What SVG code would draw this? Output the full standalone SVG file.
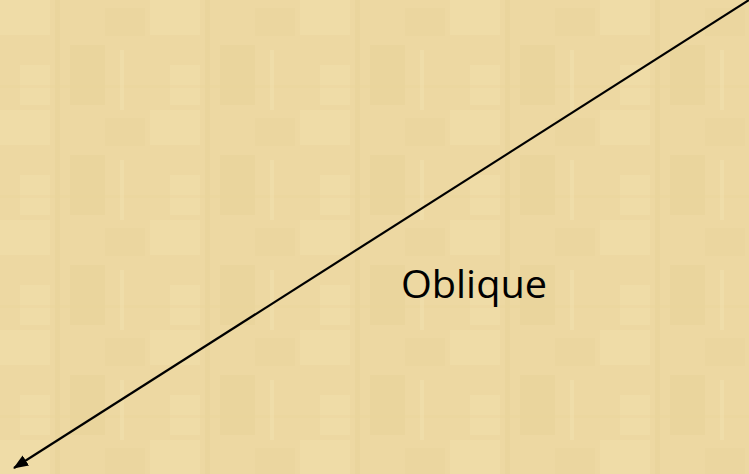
<svg xmlns="http://www.w3.org/2000/svg" width="749" height="474" viewBox="0 0 749 474">
<defs>
<pattern id="tex" width="150" height="110" patternUnits="userSpaceOnUse">
<rect width="150" height="110" fill="#EDD8A2"/>
<rect x="0" y="0" width="50" height="35" fill="#F1DFAB" opacity="0.5"/>
<rect x="70" y="45" width="35" height="60" fill="#E7D096" opacity="0.4"/>
<rect x="20" y="65" width="30" height="40" fill="#F2E1B0" opacity="0.4"/>
<rect x="105" y="8" width="40" height="28" fill="#E9D39B" opacity="0.4"/>
<rect x="55" y="0" width="5" height="110" fill="#E6CE93" opacity="0.3"/>
<rect x="0" y="85" width="150" height="3" fill="#E9D39B" opacity="0.35"/>
<rect x="120" y="50" width="4" height="60" fill="#F3E3B4" opacity="0.4"/>
</pattern>
<marker id="ah" markerWidth="15" markerHeight="12" refX="14" refY="6" orient="auto" markerUnits="userSpaceOnUse">
<path d="M0,0 L15,6 L0,12 Z" fill="#000"/>
</marker>
<style>
.lbl{font-family:"Open Sans","Liberation Sans",sans-serif;font-size:38px;fill:#000}
</style>
</defs>
<rect width="749" height="474" fill="url(#tex)"/>
<g id="connectors">
<line x1="749" y1="0" x2="14" y2="468" stroke="#000" stroke-width="2.2" marker-end="url(#ah)"/>
</g>
<g id="label">
<text class="lbl" x="401" y="298" textLength="146" lengthAdjust="spacingAndGlyphs">Oblique</text>
</g>
</svg>
